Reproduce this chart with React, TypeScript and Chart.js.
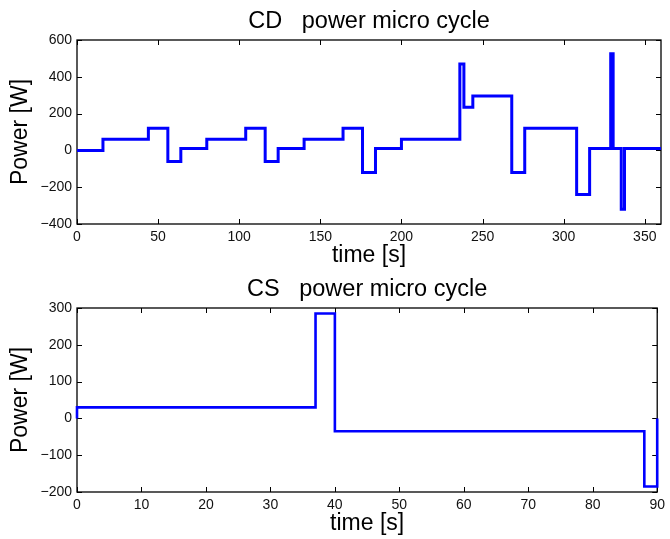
import React, { useEffect, useRef } from "react";
import { Chart, registerables } from "chart.js";

Chart.register(...registerables);

// ---- CD power micro cycle (top) ----
const cdTimes = [0, 16, 44, 56, 64, 80, 104, 116, 124, 140, 164, 176, 184, 200, 236, 238.5, 244, 268, 276, 308, 316, 329, 330.5, 335.5, 337.5, 360];
const cdPower = [0, 60, 120, -60, 10, 60, 120, -60, 10, 60, 120, -120, 10, 60, 470, 235, 295, -120, 120, -240, 10, 525, 10, -320, 10, 10];
const cdXTicks = [0, 50, 100, 150, 200, 250, 300, 350];
const cdYTicks = [-400, -200, 0, 200, 400, 600];

// ---- CS power micro cycle (bottom) ----
const csTimes = [0, 0, 37, 40, 88, 90];
const csPower = [0, 30, 285, -35, -185, 0];
const csXTicks = [0, 10, 20, 30, 40, 50, 60, 70, 80, 90];
const csYTicks = [-200, -100, 0, 100, 200, 300];

const FONT = "'Liberation Sans', Arial, Helvetica, sans-serif";

const matlabBox = {
  id: "matlabBox",
  beforeDatasetsDraw(chart: any) {
    const { ctx, chartArea: a, scales } = chart;
    const xs = scales.x;
    const ys = scales.y;
    const len = 5;
    ctx.save();
    ctx.strokeStyle = "#000";
    ctx.lineWidth = 1;
    ctx.beginPath();
    xs.ticks.forEach((t: any) => {
      const px = Math.round(xs.getPixelForValue(t.value)) + 0.5;
      ctx.moveTo(px, a.bottom);
      ctx.lineTo(px, a.bottom - len);
      ctx.moveTo(px, a.top);
      ctx.lineTo(px, a.top + len);
    });
    ys.ticks.forEach((t: any) => {
      const py = Math.round(ys.getPixelForValue(t.value)) + 0.5;
      ctx.moveTo(a.left, py);
      ctx.lineTo(a.left + len, py);
      ctx.moveTo(a.right, py);
      ctx.lineTo(a.right - len, py);
    });
    ctx.stroke();
    ctx.lineWidth = 1.3;
    ctx.strokeRect(a.left, a.top, a.right - a.left, a.bottom - a.top);
    ctx.restore();
  },
};

const fmt = (v: number) => (v < 0 ? "\u2212" + Math.abs(v) : String(v));

type Props = {
  title: string;
  times: number[];
  power: number[];
  xTicks: number[];
  yTicks: number[];
  lineWidth: number;
  top: number;
};

function PowerChart({ title, times, power, xTicks, yTicks, lineWidth, top }: Props) {
  const ref = useRef<HTMLCanvasElement | null>(null);
  useEffect(() => {
    if (!ref.current) return;
    const data = times.map((t, i) => ({ x: t, y: power[i] }));
    const chart = new Chart(ref.current, {
      type: "line",
      data: {
        datasets: [
          {
            data,
            borderColor: "#0000ff",
            borderWidth: lineWidth,
            pointRadius: 0,
            stepped: "before",
            fill: false,
            clip: false as any,
          },
        ],
      },
      plugins: [matlabBox],
      options: {
        animation: false,
        responsive: false,
        events: [],
        layout: { padding: { left: 0, right: 9, top: 0, bottom: 0 } },
        plugins: { legend: { display: false }, tooltip: { enabled: false }, title: { display: false } },
        scales: {
          x: {
            type: "linear",
            position: "bottom",
            min: xTicks[0],
            max: Math.max(...times),
            grid: { display: false, drawTicks: false },
            border: { display: false },
            afterBuildTicks: (s: any) => {
              s.ticks = xTicks.map((v) => ({ value: v }));
            },
            afterFit: (s: any) => {
              s.height = 46;
            },
            ticks: {
              callback: (v: any) => fmt(Number(v)),
              font: { family: FONT, size: 14 },
              color: "#111",
              padding: 5,
              maxRotation: 0,
              autoSkip: false,
            },
            title: {
              display: true,
              text: "time [s]",
              font: { family: FONT, size: 23 },
              color: "#000",
              padding: { top: 0, bottom: 1 },
            },
          },
          x2: {
            type: "linear",
            position: "top",
            display: true,
            grid: { display: false, drawTicks: false },
            border: { display: false },
            ticks: { display: false },
            afterFit: (s: any) => {
              s.height = 40;
            },
            title: {
              display: true,
              text: title,
              font: { family: FONT, size: 23.5 },
              color: "#000",
              padding: { top: 7, bottom: 0 },
            },
          },
          y: {
            type: "linear",
            min: yTicks[0],
            max: yTicks[yTicks.length - 1],
            grid: { display: false, drawTicks: false },
            border: { display: false },
            afterBuildTicks: (s: any) => {
              s.ticks = yTicks.map((v) => ({ value: v }));
            },
            afterFit: (s: any) => {
              s.width = 77;
            },
            ticks: {
              callback: (v: any) => fmt(Number(v)),
              font: { family: FONT, size: 14 },
              color: "#111",
              padding: 5,
              autoSkip: false,
            },
            title: {
              display: true,
              text: "Power [W]",
              font: { family: FONT, size: 23 },
              color: "#000",
              padding: { top: 7, bottom: 0 },
            },
          },
        },
      } as any,
    });
    return () => chart.destroy();
  }, [title, times, power, xTicks, yTicks, lineWidth]);
  return (
    <canvas
      ref={ref}
      width={670}
      height={270}
      style={{ position: "absolute", left: 0, top, width: 670, height: 270 }}
    />
  );
}

export default function App() {
  return (
    <div style={{ position: "absolute", left: 0, top: 0, width: 670, height: 539, background: "#fff", overflow: "hidden" }}>
      <PowerChart
        title={"CD   power micro cycle"}
        times={cdTimes}
        power={cdPower}
        xTicks={cdXTicks}
        yTicks={cdYTicks}
        lineWidth={3}
        top={0}
      />
      <PowerChart
        title={"CS   power micro cycle"}
        times={csTimes}
        power={csPower}
        xTicks={csXTicks}
        yTicks={csYTicks}
        lineWidth={2.6}
        top={268}
      />
    </div>
  );
}
